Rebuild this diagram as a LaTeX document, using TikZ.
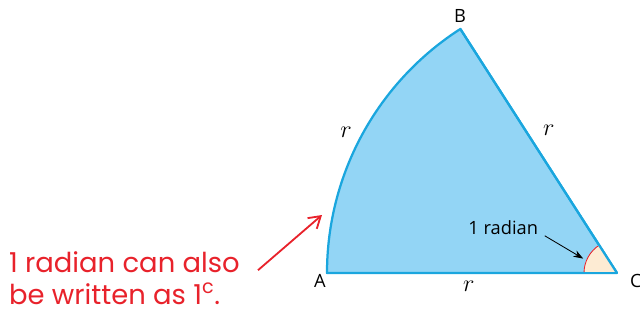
\documentclass[tikz,border=0pt]{standalone}
\usepackage{amsmath, amssymb}
\usepackage{xcolor}
\usepackage{fontspec}
\setmainfont{Open Sans}
\newfontfamily\notefont{Poppins}
\usetikzlibrary{arrows.meta, calc}

\definecolor{sectorfill}{HTML}{93D5F5}
\definecolor{sectoredge}{HTML}{1AA6DE}
\definecolor{anglefill}{HTML}{FDEBD3}
\definecolor{notered}{HTML}{E8222B}

\tikzset{
  vertexlabel/.style={font=\fontsize{13}{15}\selectfont},
  sidelabel/.style={font=\fontsize{17}{19}\selectfont},
  edgeline/.style={line width=1.6pt, sectoredge},
  notetext/.style={text=notered, font=\notefont\fontsize{19.5}{23}\selectfont, align=left, inner sep=0pt}
}

\begin{document}
\begin{tikzpicture}
\useasboundingbox (0,0) rectangle (16,8.025);

% Centre and end points
\coordinate (C) at (15.425,1.2);
\coordinate (A) at ($(C)+(180:7.25)$);
\coordinate (B) at ($(C)+(122.7:7.25)$);

% Sector
\draw[edgeline, fill=sectorfill, line join=round] (C) -- (A) arc[start angle=180, end angle=122.7, radius=7.25] -- cycle;

% Angle at C
\fill[anglefill] (C) -- ++(180:0.825) arc[start angle=180, end angle=122.7, radius=0.825] -- cycle;
\draw[notered, semithick] ($(C)+(180:0.825)$) arc[start angle=180, end angle=122.7, radius=0.825];
\draw[edgeline] (C) -- (A);
\draw[edgeline] (C) -- (B);

% Vertex labels
\node[vertexlabel] (labA) at (8.0,1.0) {A};
\node[vertexlabel] (labB) at (11.5,7.62) {B};
\node[vertexlabel] (labC) at (15.9,1.0) {C};

% Side labels
\node[sidelabel] (rarc) at (8.65,4.72) {$r$};
\node[sidelabel] (rside) at (13.72,4.78) {$r$};
\node[sidelabel] (rbase) at (11.72,0.88) {$r$};

% Angle label
\node[vertexlabel] (radlab) at (12.58,2.33) {1 radian};
\coordinate (angtip) at (14.58,1.56);
\draw[semithick, -{Stealth[length=7pt, width=5pt]}] (13.62,2.13) -- (angtip);

% Note
\node[notetext, anchor=north west] (note) at (0.22,1.75) {1 radian can also\\be written as 1\textsuperscript{c}.};
\coordinate (arcpt) at (8.05,2.65);
\draw[notered, line width=1.3pt, -{Straight Barb[length=8pt, width=10pt]}] (6.45,1.27) -- (arcpt);
\end{tikzpicture}
\end{document}
